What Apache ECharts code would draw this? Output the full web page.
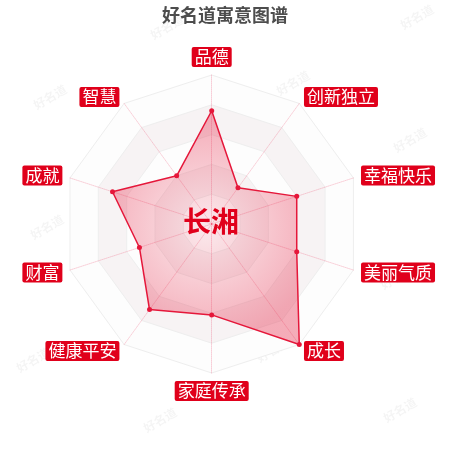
<!DOCTYPE html>
<html>
<head>
<meta charset="utf-8">
<script src="https://cdn.jsdelivr.net/npm/echarts@6/dist/echarts.min.js"></script>
<style>
html,body{margin:0;padding:0;background:#fff;}
#chart{width:450px;height:450px;}
</style>
</head>
<body>
<div id="chart"></div>
<script>
// Indicators in ECharts order (counter-clockwise from top)
var categories = ['品德', '智慧', '成就', '财富', '健康平安', '家庭传承', '成长', '美丽气质', '幸福快乐', '创新独立'];
var values = [76, 40, 70, 51, 71, 61, 100, 60, 60, 30];
var maxValue = 100;
var titleText = '好名道寓意图谱';
var centerName = '长湘';
var watermarkText = '好名道';
var watermarkSpots = [[167,27],[417,17],[50,97],[293,83],[410,140],[160,160],[47,227],[300,210],[397,277],[33,360],[273,350],[160,420],[400,410]];

var chart = echarts.init(document.getElementById('chart'), null, {renderer: 'canvas'});
var fontFam = '"Noto Sans CJK SC", "Noto Sans", sans-serif';

var graphics = watermarkSpots.map(function (p) {
  return {
    type: 'text', x: p[0], y: p[1], rotation: Math.PI / 6, z: -1,
    style: {text: watermarkText, fill: 'rgba(0,0,0,0.045)', font: 'bold 12px ' + fontFam, align: 'center', verticalAlign: 'middle'}
  };
});
graphics.push({
  type: 'text', x: 211, y: 221, z: 100,
  style: {text: centerName, fill: '#e0001b', font: 'bold 28px ' + fontFam, align: 'center', verticalAlign: 'middle'}
});

chart.setOption({
  animation: false,
  backgroundColor: '#fff',
  title: {
    text: titleText, left: 'center', top: 1,
    textStyle: {color: '#4d4d4d', fontSize: 18, fontWeight: 'bold', fontFamily: fontFam}
  },
  graphic: graphics,
  radar: {
    center: [211.7, 224],
    radius: 149,
    splitNumber: 5,
    nameGap: 8,
    shape: 'polygon',
    indicator: categories.map(function (c) { return {name: c, max: maxValue}; }),
    axisName: {
      color: '#fff', backgroundColor: '#e0001b', fontSize: 17, lineHeight: 16,
      padding: [2, 3], borderRadius: 2, fontFamily: fontFam
    },
    axisLine: {lineStyle: {color: 'rgba(232,40,80,0.22)', type: 'dotted', width: 1}},
    splitLine: {lineStyle: {color: '#eeeeee', width: 1}},
    splitArea: {areaStyle: {color: ['#fdfdfd', '#f7f3f4']}}
  },
  series: [{
    type: 'radar',
    symbol: 'circle',
    symbolSize: 5,
    itemStyle: {color: '#e5173a'},
    lineStyle: {color: '#e5173a', width: 1.5},
    areaStyle: {
      color: {
        type: 'radial', x: 0.5, y: 0.5, r: 0.6,
        colorStops: [
          {offset: 0, color: 'rgba(229,23,58,0.12)'},
          {offset: 1, color: 'rgba(229,23,58,0.5)'}
        ]
      }
    },
    data: [{value: values, name: centerName}]
  }]
});
</script>
</body>
</html>
